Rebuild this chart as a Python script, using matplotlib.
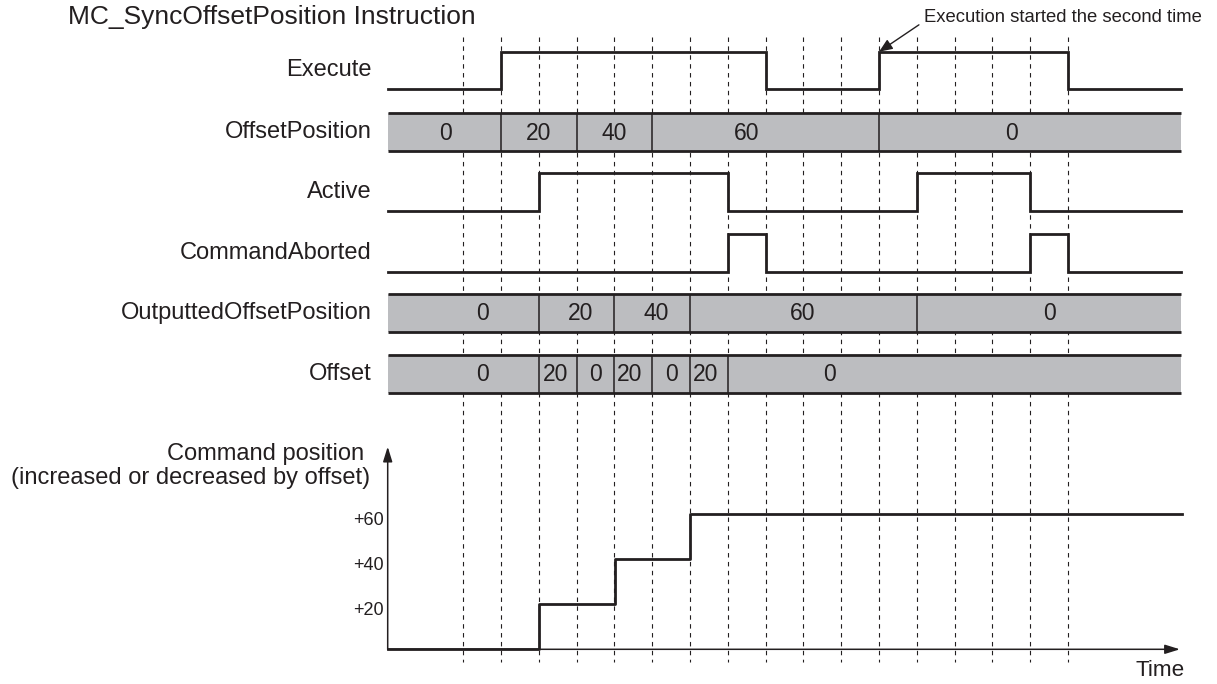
import numpy as np
import matplotlib.pyplot as plt
from matplotlib.transforms import ScaledTranslation

plt.rcParams['font.family'] = ['Liberation Sans', 'DejaVu Sans']

INK = '#231f20'
BUS_GRAY = '#bcbdc0'

# time grid: one step per dashed line
grid_t = list(range(0, 17))
t_start, t_end = -2, 19

# bit signals (edge times, level per segment)
execute_t = [-2, 1, 8, 11, 16, 19]
execute_v = [0, 1, 0, 1, 0]
active_t = [-2, 2, 7, 12, 15, 19]
active_v = [0, 1, 0, 1, 0]
aborted_t = [-2, 7, 8, 15, 16, 19]
aborted_v = [0, 1, 0, 1, 0]

# bus signals (edge times, value per segment)
offsetpos_t = [-2, 1, 3, 5, 11, 19]
offsetpos_v = ["0", "20", "40", "60", "0"]
outputted_t = [-2, 2, 4, 6, 12, 19]
outputted_v = ["0", "20", "40", "60", "0"]
offset_t = [-2, 2, 3, 4, 5, 6, 7, 19]
offset_v = ["0", "20", "0", "20", "0", "20", "0"]

# command position
cmd_t = [-2, 2, 4, 6, 19]
cmd_v = [0, 20, 40, 60, 60]
cmd_ticks = [20, 40, 60]
cmd_ticklabels = ["+20", "+40", "+60"]

# pixel layout
X0, STEP = 463.3, 37.8
W, H = 1217, 684


def t_of(px):
    return (px - X0) / STEP


fig = plt.figure(figsize=(W / 100, H / 100), dpi=100)
ax = fig.add_axes([0, 0, 1, 1])
ax.set_xlim(t_of(0), t_of(W))
ax.set_ylim(H, 0)
ax.axis('off')

# dashed guide lines
ax.vlines(grid_t, 37, 662, colors=INK, linestyles=(0, (4, 4)), lw=0.8, zorder=1)


def draw_bit(name, ts, vs, high, low):
    ys = [low - v * (low - high) for v in vs]
    ax.plot(ts, ys + [ys[-1]], drawstyle='steps-post', color=INK, lw=2.0,
            solid_joinstyle='miter', zorder=3)
    ax.text(t_of(372), (high + low) / 2, name, ha='right', va='center',
            fontsize=17, color=INK)


def draw_bus(name, ts, vs, top, bot, label_at):
    ax.fill_between([ts[0], ts[-1]], top, bot, color=BUS_GRAY, lw=0, zorder=2)
    ax.hlines([top, bot], ts[0], ts[-1], colors=INK, lw=2.0, zorder=3)
    ax.vlines(ts[1:-1], top, bot, colors=INK, lw=1.1, zorder=3)
    for t, v in zip(label_at, vs):
        ax.text(t, (top + bot) / 2 + 1, v, ha='center', va='center',
                fontsize=16.5, color=INK, zorder=4)
    ax.text(t_of(372), (top + bot) / 2, name, ha='right', va='center',
            fontsize=17, color=INK)


draw_bit("Execute", execute_t, execute_v, 51.7, 89.3)
draw_bus("OffsetPosition", offsetpos_t, offsetpos_v, 113.3, 151,
         [-0.48, 2.0, 4.0, 7.5, 14.5])
draw_bit("Active", active_t, active_v, 173.3, 211)
draw_bit("CommandAborted", aborted_t, aborted_v, 234, 271.7)
draw_bus("OutputtedOffsetPosition", outputted_t, outputted_v, 294, 332,
         [0.5, 3.1, 5.1, 8.97, 15.5])
draw_bus("Offset", offset_t, offset_v, 355, 392.7,
         [0.5, 2.45, 3.5, 4.4, 5.5, 6.4, 9.7])

# title and note
fig.text(68 / W, 1 - 17 / H, "MC_SyncOffsetPosition Instruction",
         ha='left', va='center', fontsize=19, color=INK)
ax.annotate("Execution started the second time", xy=(11, 51.7), xytext=(t_of(924), 18),
            ha='left', va='center', fontsize=13.3, color=INK,
            arrowprops=dict(arrowstyle='-|>,head_length=0.6,head_width=0.25', color=INK,
                            lw=1.0, shrinkA=2, shrinkB=0, relpos=(0, 0.3)))

# command position chart
ax2 = fig.add_axes([387.7 / W, (H - 649.3) / H, (1181.5 - 387.7) / W, (649.3 - 446.7) / H])
ax2.patch.set_alpha(0)
ax2.set_xlim(t_start, t_end)
ax2.set_ylim(0, 90)
for s in ax2.spines.values():
    s.set_visible(False)
ax2.set_xticks([])
ax2.set_yticks(cmd_ticks, cmd_ticklabels)
ax2.tick_params(axis='y', length=0, pad=3, labelsize=13, labelcolor=INK)
for lab in ax2.get_yticklabels():
    lab.set_transform(lab.get_transform() + ScaledTranslation(0, -4 / 100, fig.dpi_scale_trans))

arrow = dict(arrowstyle='-|>,head_length=0.9,head_width=0.28', color=INK, lw=1.1,
             shrinkA=0, shrinkB=0)
ax2.annotate('', xy=(0.998, 0), xytext=(0, 0), xycoords='axes fraction', arrowprops=arrow)
ax2.annotate('', xy=(0, 1), xytext=(0, 0), xycoords='axes fraction', arrowprops=arrow)
ax2.plot(cmd_t, cmd_v, drawstyle='steps-post', color=INK, lw=2.0, clip_on=False, zorder=3)

ax.text(t_of(364), 454, "Command position", ha='right', va='center', fontsize=17, color=INK)
ax.text(t_of(370), 478, "(increased or decreased by offset)", ha='right', va='center',
        fontsize=17, color=INK)
ax.text(t_of(1160), 671, "Time", ha='center', va='center', fontsize=16.2, color=INK)

fig.savefig('out.png', dpi=100)
